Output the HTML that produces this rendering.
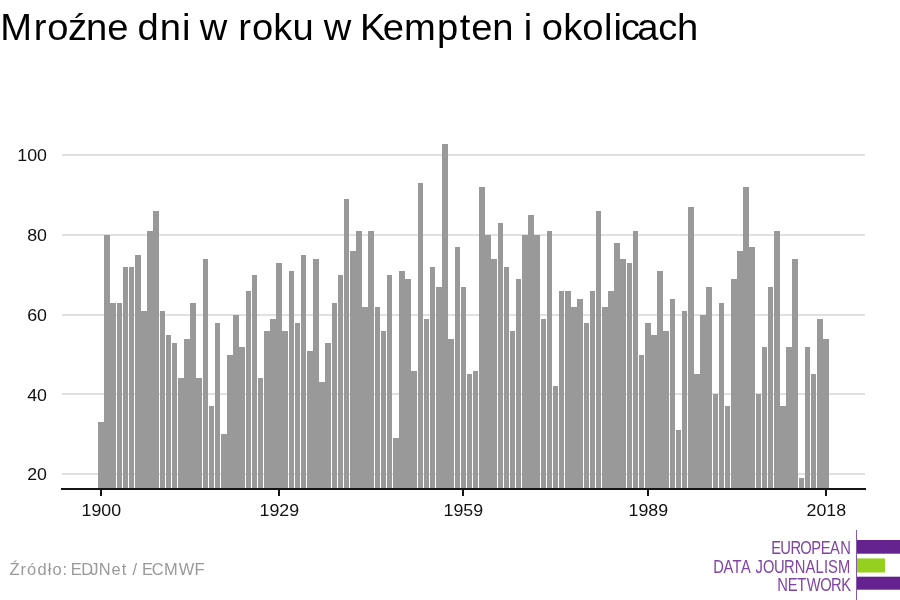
<!DOCTYPE html>
<html lang="pl"><head><meta charset="utf-8"><title>Mroźne dni w roku w Kempten i okolicach</title>
<style>
html,body{margin:0;padding:0;background:#fff}
body{width:900px;height:600px;overflow:hidden;font-family:"Liberation Sans",sans-serif}
svg{display:block}
text{font-family:"Liberation Sans",sans-serif}
.t{font-size:36px;fill:#000}
.ax text{font-size:17.33px;fill:#111}
.src{font-size:17.33px;fill:#999}
.lg{font-size:18px;fill:#8045a4}
</style></head>
<body>
<svg width="900" height="600" viewBox="0 0 900 600">
<rect width="900" height="600" fill="#fff"/>
<text class="t" transform="translate(0.00,40.3) scale(1.06,1)" x="0.20 31.74 44.65 64.08 81.25 101.30 120.67 129.75 150.75 171.67 179.67 188.55 214.81 224.82 237.75 257.89 276.00 296.61 305.50 331.75 339.57 361.09 381.17 412.35 433.71 444.48 464.33 484.67 494.06 502.06 511.13 531.27 549.40 569.90 578.74 585.94 601.08 621.08 638.64" y="0">Mroźne dni w roku w Kempten i okolicach</text>
<g fill="#e0e0e0" shape-rendering="crispEdges"><rect x="62" y="154" width="803" height="2"/><rect x="62" y="234" width="803" height="2"/><rect x="62" y="314" width="803" height="2"/><rect x="62" y="393" width="803" height="2"/><rect x="62" y="473" width="803" height="2"/></g>
<g fill="#999" shape-rendering="crispEdges"><rect x="98" y="422" width="6" height="67"/><rect x="104" y="235" width="6" height="254"/><rect x="110" y="303" width="6" height="186"/><rect x="117" y="303" width="5" height="186"/><rect x="123" y="267" width="5" height="222"/><rect x="129" y="267" width="5" height="222"/><rect x="135" y="255" width="6" height="234"/><rect x="141" y="311" width="6" height="178"/><rect x="147" y="231" width="6" height="258"/><rect x="153" y="211" width="6" height="278"/><rect x="160" y="311" width="5" height="178"/><rect x="166" y="335" width="5" height="154"/><rect x="172" y="343" width="5" height="146"/><rect x="178" y="378" width="6" height="111"/><rect x="184" y="339" width="6" height="150"/><rect x="190" y="303" width="6" height="186"/><rect x="196" y="378" width="6" height="111"/><rect x="203" y="259" width="5" height="230"/><rect x="209" y="406" width="5" height="83"/><rect x="215" y="323" width="5" height="166"/><rect x="221" y="434" width="6" height="55"/><rect x="227" y="355" width="6" height="134"/><rect x="233" y="315" width="6" height="174"/><rect x="239" y="347" width="6" height="142"/><rect x="246" y="291" width="5" height="198"/><rect x="252" y="275" width="5" height="214"/><rect x="258" y="378" width="5" height="111"/><rect x="264" y="331" width="6" height="158"/><rect x="270" y="319" width="6" height="170"/><rect x="276" y="263" width="6" height="226"/><rect x="282" y="331" width="6" height="158"/><rect x="289" y="271" width="5" height="218"/><rect x="295" y="323" width="5" height="166"/><rect x="301" y="255" width="5" height="234"/><rect x="307" y="351" width="6" height="138"/><rect x="313" y="259" width="6" height="230"/><rect x="319" y="382" width="6" height="107"/><rect x="325" y="343" width="6" height="146"/><rect x="332" y="303" width="5" height="186"/><rect x="338" y="275" width="5" height="214"/><rect x="344" y="199" width="5" height="290"/><rect x="350" y="251" width="6" height="238"/><rect x="356" y="231" width="6" height="258"/><rect x="362" y="307" width="6" height="182"/><rect x="368" y="231" width="6" height="258"/><rect x="375" y="307" width="5" height="182"/><rect x="381" y="331" width="5" height="158"/><rect x="387" y="275" width="5" height="214"/><rect x="393" y="438" width="6" height="51"/><rect x="399" y="271" width="6" height="218"/><rect x="405" y="279" width="6" height="210"/><rect x="411" y="371" width="6" height="118"/><rect x="418" y="183" width="5" height="306"/><rect x="424" y="319" width="5" height="170"/><rect x="430" y="267" width="5" height="222"/><rect x="436" y="287" width="6" height="202"/><rect x="442" y="144" width="6" height="345"/><rect x="448" y="339" width="6" height="150"/><rect x="455" y="247" width="5" height="242"/><rect x="461" y="287" width="5" height="202"/><rect x="467" y="374" width="5" height="115"/><rect x="473" y="371" width="5" height="118"/><rect x="479" y="187" width="6" height="302"/><rect x="485" y="235" width="6" height="254"/><rect x="491" y="259" width="6" height="230"/><rect x="498" y="223" width="5" height="266"/><rect x="504" y="267" width="5" height="222"/><rect x="510" y="331" width="5" height="158"/><rect x="516" y="279" width="5" height="210"/><rect x="522" y="235" width="6" height="254"/><rect x="528" y="215" width="6" height="274"/><rect x="534" y="235" width="6" height="254"/><rect x="541" y="319" width="5" height="170"/><rect x="547" y="231" width="5" height="258"/><rect x="553" y="386" width="5" height="103"/><rect x="559" y="291" width="5" height="198"/><rect x="565" y="291" width="6" height="198"/><rect x="571" y="307" width="6" height="182"/><rect x="577" y="299" width="6" height="190"/><rect x="584" y="323" width="5" height="166"/><rect x="590" y="291" width="5" height="198"/><rect x="596" y="211" width="5" height="278"/><rect x="602" y="307" width="6" height="182"/><rect x="608" y="291" width="6" height="198"/><rect x="614" y="243" width="6" height="246"/><rect x="620" y="259" width="6" height="230"/><rect x="627" y="263" width="5" height="226"/><rect x="633" y="231" width="5" height="258"/><rect x="639" y="355" width="5" height="134"/><rect x="645" y="323" width="6" height="166"/><rect x="651" y="335" width="6" height="154"/><rect x="657" y="271" width="6" height="218"/><rect x="663" y="331" width="6" height="158"/><rect x="670" y="299" width="5" height="190"/><rect x="676" y="430" width="5" height="59"/><rect x="682" y="311" width="5" height="178"/><rect x="688" y="207" width="6" height="282"/><rect x="694" y="374" width="6" height="115"/><rect x="700" y="315" width="6" height="174"/><rect x="706" y="287" width="6" height="202"/><rect x="713" y="394" width="5" height="95"/><rect x="719" y="303" width="5" height="186"/><rect x="725" y="406" width="5" height="83"/><rect x="731" y="279" width="6" height="210"/><rect x="737" y="251" width="6" height="238"/><rect x="743" y="187" width="6" height="302"/><rect x="749" y="247" width="6" height="242"/><rect x="756" y="394" width="5" height="95"/><rect x="762" y="347" width="5" height="142"/><rect x="768" y="287" width="5" height="202"/><rect x="774" y="231" width="6" height="258"/><rect x="780" y="406" width="6" height="83"/><rect x="786" y="347" width="6" height="142"/><rect x="792" y="259" width="6" height="230"/><rect x="799" y="478" width="5" height="11"/><rect x="805" y="347" width="5" height="142"/><rect x="811" y="374" width="5" height="115"/><rect x="817" y="319" width="6" height="170"/><rect x="823" y="339" width="6" height="150"/></g>
<g fill="#151515" shape-rendering="crispEdges"><rect x="61" y="488" width="805" height="2"/><rect x="100" y="489" width="2" height="7"/><rect x="278" y="489" width="2" height="7"/><rect x="462" y="489" width="2" height="7"/><rect x="647" y="489" width="2" height="7"/><rect x="825" y="489" width="2" height="7"/></g>
<g class="ax"><text x="47.0" y="161" text-anchor="end" textLength="29.7" lengthAdjust="spacingAndGlyphs">100</text><text x="47.0" y="241" text-anchor="end" textLength="19.8" lengthAdjust="spacingAndGlyphs">80</text><text x="47.0" y="321" text-anchor="end" textLength="19.8" lengthAdjust="spacingAndGlyphs">60</text><text x="47.0" y="400.5" text-anchor="end" textLength="19.8" lengthAdjust="spacingAndGlyphs">40</text><text x="47.0" y="480" text-anchor="end" textLength="19.8" lengthAdjust="spacingAndGlyphs">20</text><text x="101.3" y="515.6" text-anchor="middle" textLength="39.6" lengthAdjust="spacingAndGlyphs">1900</text><text x="279.3" y="515.6" text-anchor="middle" textLength="39.6" lengthAdjust="spacingAndGlyphs">1929</text><text x="463.3" y="515.6" text-anchor="middle" textLength="39.6" lengthAdjust="spacingAndGlyphs">1959</text><text x="648.3" y="515.6" text-anchor="middle" textLength="39.6" lengthAdjust="spacingAndGlyphs">1989</text><text x="826.3" y="515.6" text-anchor="middle" textLength="39.6" lengthAdjust="spacingAndGlyphs">2018</text></g>
<text class="src" transform="translate(9.50,575) scale(0.95,1)" x="-0.14 11.46 18.56 29.53 40.40 45.30 55.71 60.38 64.45 75.61 84.96 94.00 107.51 118.21 123.87 129.44 135.30 139.36 149.79 162.62 178.21 194.63" y="0">Źródło: EDJNet / ECMWF</text>
<g class="logo">
<rect x="856" y="530" width="1" height="70" fill="#8a58ad"/>
<rect x="857" y="540" width="43" height="13.7" fill="#64238f"/>
<rect x="857" y="558.4" width="28" height="14.1" fill="#96d01e"/>
<rect x="857" y="576.7" width="43" height="13" fill="#64238f"/>
<text class="lg" transform="translate(771.62,553.8) scale(0.82,1)" x="-0.33 10.62 23.06 34.98 48.47 59.96 71.16 83.64" y="0">EUROPEAN</text>
<text class="lg" transform="translate(713.44,572.6) scale(0.82,1)" x="-0.37 12.23 23.12 33.49 45.58 51.24 60.59 73.75 86.19 99.04 112.32 124.60 134.98 139.73 151.95" y="0">DATA JOURNALISM</text>
<text class="lg" transform="translate(776.98,590.5) scale(0.82,1)" x="0.39 13.20 24.83 36.26 52.67 65.77 78.28" y="0">NETWORK</text>
</g>
</svg>
</body></html>
